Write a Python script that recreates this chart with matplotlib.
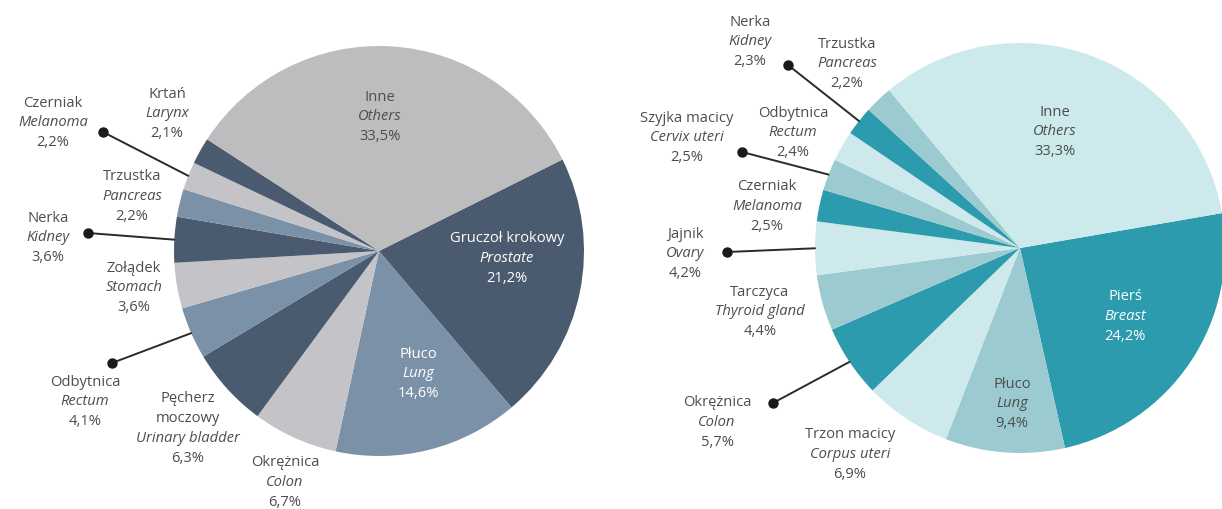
import numpy as np
import matplotlib
matplotlib.use("Agg")
import matplotlib.pyplot as plt

plt.rcParams['font.family'] = ['Open Sans', 'DejaVu Sans']

# ---- Men (left pie), clockwise from the largest named site ----
men_pl = ["Gruczoł krokowy", "Płuco", "Okrężnica", "Pęcherz\nmoczowy", "Odbytnica",
          "Zołądek", "Nerka", "Trzustka", "Czerniak", "Krtań", "Inne"]
men_en = ["Prostate", "Lung", "Colon", "Urinary bladder", "Rectum",
          "Stomach", "Kidney", "Pancreas", "Melanoma", "Larynx", "Others"]
men_pct = [21.2, 14.6, 6.7, 6.3, 4.1, 3.6, 3.6, 2.2, 2.2, 2.1, 33.5]

# ---- Women (right pie) ----
women_pl = ["Pierś", "Płuco", "Trzon macicy", "Okrężnica", "Tarczyca", "Jajnik",
            "Czerniak", "Szyjka macicy", "Odbytnica", "Nerka", "Trzustka", "Inne"]
women_en = ["Breast", "Lung", "Corpus uteri", "Colon", "Thyroid gland", "Ovary",
            "Melanoma", "Cervix uteri", "Rectum", "Kidney", "Pancreas", "Others"]
women_pct = [24.2, 9.4, 6.9, 5.7, 4.4, 4.2, 2.5, 2.5, 2.4, 2.3, 2.2, 33.3]

W, H = 1222, 509
fig = plt.figure(figsize=(W / 100, H / 100), dpi=100)
fig.patch.set_facecolor("white")

# overlay in pixel coordinates for labels and leader lines
ov = fig.add_axes([0, 0, 1, 1], zorder=5)
ov.set_xlim(0, W)
ov.set_ylim(H, 0)
ov.axis("off")
ov.patch.set_alpha(0)

TXT = "#4d4d4d"
PITCH = 19.7
FS = 10.6


def pct_text(v):
    return f"{v:.1f}".replace(".", ",") + "%"


def label(x, y, pl, en, v, color=TXT):
    lines = [(s, "normal") for s in pl.split("\n")]
    lines.append((en, "italic"))
    lines.append((pct_text(v), "normal"))
    for i, (s, st) in enumerate(lines):
        ov.text(x, y + i * PITCH, s, ha="center", va="center", fontsize=FS,
                style=st, color=color)


def draw_pie(cx, cy, r, values, colors, start):
    ax = fig.add_axes([(cx - r) / W, (H - cy - r) / H, 2 * r / W, 2 * r / H])
    wedges, _ = ax.pie(values, colors=colors, startangle=start, counterclock=False,
                       radius=1.0, wedgeprops=dict(linewidth=0))
    ax.set_aspect("auto")
    ax.set_xlim(-1, 1)
    ax.set_ylim(-1, 1)
    ax.axis("off")
    # mid angles of each wedge (degrees, counter-clockwise from east)
    mids = [(w.theta1 + w.theta2) / 2 for w in wedges]
    return mids


def leader(cx, cy, r, ang, dot):
    ex = cx + r * np.cos(np.radians(ang))
    ey = cy - r * np.sin(np.radians(ang))
    ov.plot([dot[0], ex], [dot[1], ey], color="#2a2a2a", lw=1.4, solid_capstyle="round")
    ov.plot([dot[0]], [dot[1]], "o", color="#1a1a1a", ms=6.5)


# ---- left pie ----
DK, MD, LT = "#4b5b6f", "#7b91a7", "#c3c3c8"
men_colors = [DK, MD, LT, DK, MD, LT, DK, MD, LT, DK, "#bdbdbf"]
lcx, lcy, lr = 379, 251, 205
lmids = draw_pie(lcx, lcy, lr, men_pct, men_colors, 26.5)

men_pos = {
    "Prostate": (507, 239), "Lung": (418, 354), "Colon": (285, 463),
    "Urinary bladder": (188, 399), "Rectum": (85, 382), "Stomach": (134, 268),
    "Kidney": (48, 218), "Pancreas": (132, 177), "Melanoma": (53, 103),
    "Larynx": (167, 94), "Others": (380, 97),
}
white_in = {"Prostate", "Lung"}
for pl, en, v in zip(men_pl, men_en, men_pct):
    x, y = men_pos[en]
    label(x, y, pl, en, v, "white" if en in white_in else TXT)

men_dots = {"Melanoma": (103, 132), "Kidney": (88, 233), "Rectum": (112, 363)}
for en, dot in men_dots.items():
    leader(lcx, lcy, lr, lmids[men_en.index(en)], dot)

# ---- right pie ----
TD, TM, TL = "#2b9bad", "#9bcad0", "#cde9ec"
women_colors = [TD, TM, TL, TD, TM, TL, TD, TM, TL, TD, TM, "#cce9ec"]
rcx, rcy, rr = 1020, 248, 205
rmids = draw_pie(rcx, rcy, rr, women_pct, women_colors, 9.8)

women_pos = {
    "Breast": (1125, 297), "Lung": (1012, 384), "Corpus uteri": (850, 435),
    "Colon": (717, 403), "Thyroid gland": (760, 292), "Ovary": (685, 234),
    "Melanoma": (767, 187), "Cervix uteri": (687, 118), "Rectum": (793, 113),
    "Kidney": (750, 22), "Pancreas": (847, 44), "Others": (1055, 112),
}
for pl, en, v in zip(women_pl, women_en, women_pct):
    x, y = women_pos[en]
    label(x, y, pl, en, v, "white" if en == "Breast" else TXT)

women_dots = {"Kidney": (788, 65), "Cervix uteri": (742, 152),
              "Ovary": (727, 252), "Colon": (773, 403)}
for en, dot in women_dots.items():
    leader(rcx, rcy, rr, rmids[women_en.index(en)], dot)

fig.savefig("out.png", dpi=100, facecolor="white")
